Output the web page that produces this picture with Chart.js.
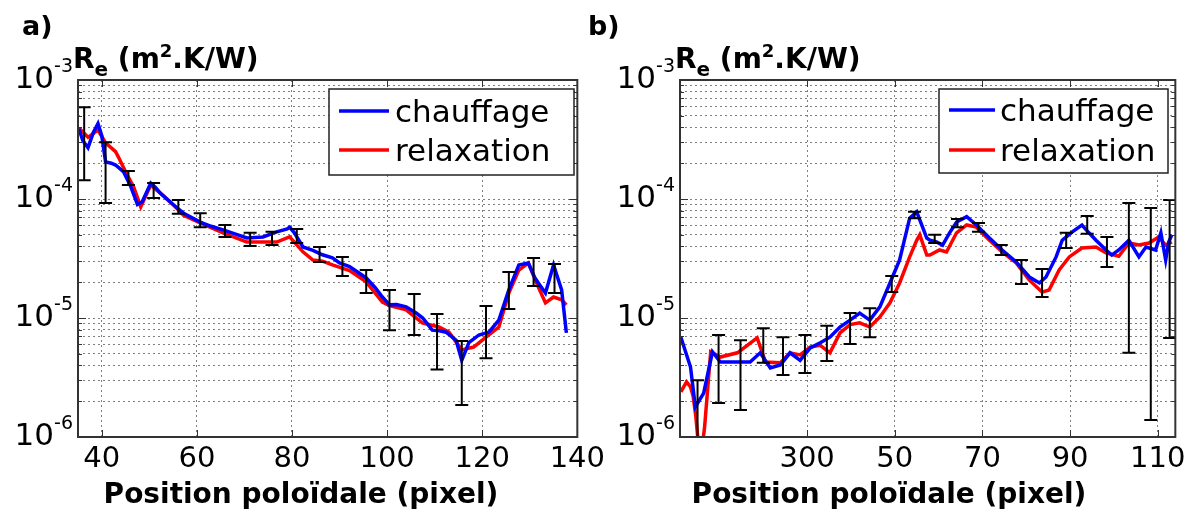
<!DOCTYPE html>
<html>
<head>
<meta charset="utf-8">
<script src="https://cdn.jsdelivr.net/npm/chart.js@4.4.1/dist/chart.umd.min.js"></script>
<style>
  html, body { margin: 0; padding: 0; background: #fff; }
  #wrap { position: relative; width: 1191px; height: 515px; overflow: hidden; }
  canvas { position: absolute; top: 0; }
</style>
</head>
<body>
<div id="wrap">
  <canvas id="chartA" width="610" height="515" style="left:0"></canvas>
  <canvas id="chartB" width="611" height="515" style="left:580px"></canvas>
</div>
<script>
// ---- panel a) ----
const xChaufA = [35.2, 36.0, 37.1, 38.2, 39.2, 40.0, 40.8, 42.0, 42.9, 44.6, 46.0, 47.5, 48.5, 50.3, 51.3, 52.3, 55.1, 57.2, 60.7, 63.0, 65.5, 68.0, 70.5, 73.9, 76.8, 79.0, 79.5, 80.5, 82.3, 84.4, 86.4, 88.5, 90.0, 92.1, 95.6, 97.5, 99.0, 100.5, 102.0, 104.0, 106.1, 107.5, 109.5, 111.0, 112.4, 114.5, 115.7, 117.2, 119.3, 121.4, 123.5, 125.6, 127.7, 129.7, 131.0, 131.8, 133.3, 135.0, 136.7, 137.7];
const yChaufA = [3.9e-4, 3.1e-4, 2.7e-4, 3.6e-4, 4.3e-4, 3.4e-4, 2.05e-4, 2.0e-4, 1.93e-4, 1.69e-4, 1.3e-4, 9.0e-5, 9.5e-5, 1.36e-4, 1.25e-4, 1.12e-4, 8.9e-5, 7.6e-5, 6.4e-5, 5.9e-5, 5.5e-5, 5.1e-5, 4.7e-5, 4.8e-5, 5.3e-5, 5.6e-5, 5.8e-5, 5.2e-5, 3.95e-5, 3.7e-5, 3.4e-5, 3.2e-5, 2.9e-5, 2.7e-5, 2.17e-5, 1.8e-5, 1.5e-5, 1.29e-5, 1.3e-5, 1.24e-5, 1.1e-5, 1.0e-5, 7.9e-6, 7.8e-6, 7.6e-6, 6.5e-6, 4.4e-6, 6.2e-6, 7.2e-6, 7.6e-6, 9.6e-6, 1.72e-5, 2.79e-5, 2.9e-5, 2.2e-5, 1.97e-5, 1.62e-5, 2.79e-5, 1.72e-5, 7.5e-6];
const xRelaxA = [35.2, 37.1, 39.2, 40.8, 42.9, 43.6, 45.0, 46.7, 48.2, 50.3, 52.3, 55.1, 57.2, 60.7, 65.5, 70.5, 73.9, 76.8, 79.5, 82.3, 84.4, 86.4, 88.5, 92.1, 95.6, 99.0, 100.5, 102.6, 104.0, 107.4, 110.9, 113.0, 115.7, 118.2, 121.4, 123.5, 125.6, 127.7, 129.7, 131.8, 133.3, 135.0, 136.7, 137.7];
const yRelaxA = [3.95e-4, 3.3e-4, 3.8e-4, 2.96e-4, 2.5e-4, 2.21e-4, 1.69e-4, 1.26e-4, 8.6e-5, 1.31e-4, 1.12e-4, 8.9e-5, 7.3e-5, 6.3e-5, 5.2e-5, 4.35e-5, 4.35e-5, 4.35e-5, 4.8e-5, 3.6e-5, 3.07e-5, 3.0e-5, 2.79e-5, 2.5e-5, 2.01e-5, 1.36e-5, 1.27e-5, 1.21e-5, 1.17e-5, 9.1e-6, 8.4e-6, 7.6e-6, 5.4e-6, 5.7e-6, 7.2e-6, 8.4e-6, 1.62e-5, 2.53e-5, 2.9e-5, 1.82e-5, 1.34e-5, 1.5e-5, 1.42e-5, 1.29e-5];
const errXA = [36.3, 40.8, 45.6, 50.9, 56.1, 60.7, 65.9, 71.2, 75.8, 81.0, 85.8, 90.6, 95.6, 100.5, 105.7, 110.5, 115.7, 120.8, 125.6, 130.8, 135.2];
const errHiA = [5.9e-4, 3.0e-4, 1.72e-4, 1.36e-4, 9.8e-5, 7.6e-5, 6.05e-5, 5.2e-5, 5.3e-5, 5.6e-5, 3.95e-5, 3.26e-5, 2.53e-5, 1.72e-5, 1.59e-5, 1.08e-5, 6.4e-6, 1.26e-5, 2.44e-5, 3.19e-5, 2.84e-5];
const errLoA = [1.44e-4, 9.25e-5, 1.31e-4, 1.02e-4, 7.5e-5, 5.8e-5, 4.8e-5, 4.03e-5, 4.1e-5, 4.27e-5, 2.96e-5, 2.25e-5, 1.62e-5, 7.9e-6, 7.2e-6, 3.7e-6, 1.86e-6, 4.6e-6, 1.19e-5, 1.86e-5, 1.62e-5];
const xTicksA = [40, 60, 80, 100, 120, 140];
const xLabelsA = ['40', '60', '80', '100', '120', '140'];

// ---- panel b) ----
const xChaufB = [1.2, 3.4, 4.5, 6.4, 8.4, 10.2, 14.1, 17.0, 19.3, 21.6, 23.9, 26.1, 28.4, 30.7, 33.0, 35.2, 37.5, 39.8, 42.0, 44.3, 46.6, 48.9, 51.1, 53.4, 55.0, 57.3, 58.0, 59.5, 60.9, 62.5, 64.1, 66.4, 68.6, 71.6, 74.5, 77.7, 80.7, 83.0, 84.5, 86.8, 88.2, 90.5, 92.7, 94.3, 95.9, 98.2, 99.5, 101.1, 103.4, 105.7, 107.3, 109.5, 110.7, 111.8, 112.5, 113.2];
const yChaufB = [6.9e-6, 3.87e-6, 1.79e-6, 2.34e-6, 5.2e-6, 4.27e-6, 4.27e-6, 4.27e-6, 5.1e-6, 3.8e-6, 4.03e-6, 5.1e-6, 4.4e-6, 5.6e-6, 6.2e-6, 6.9e-6, 8.4e-6, 9.6e-6, 1.1e-5, 9.6e-6, 1.24e-5, 1.97e-5, 3.07e-5, 6.9e-5, 7.8e-5, 4.7e-5, 4.5e-5, 4.35e-5, 4.1e-5, 5.2e-5, 6.4e-5, 7.1e-5, 6.05e-5, 4.7e-5, 3.73e-5, 2.96e-5, 2.21e-5, 1.97e-5, 2.21e-5, 3.26e-5, 4.5e-5, 5.3e-5, 6.05e-5, 5.2e-5, 4.5e-5, 3.73e-5, 3.38e-5, 3.73e-5, 4.5e-5, 3.26e-5, 3.95e-5, 3.73e-5, 5.2e-5, 3.07e-5, 4.35e-5, 5.0e-5];
const xRelaxB = [1.2, 2.5, 3.4, 4.0, 4.6, 5.6, 6.6, 8.0, 10.2, 14.1, 18.6, 20.5, 23.9, 26.1, 28.4, 30.7, 33.0, 35.2, 37.5, 39.8, 42.0, 44.3, 46.6, 48.9, 51.1, 53.4, 55.0, 55.7, 57.3, 58.0, 60.2, 61.8, 64.1, 66.4, 68.6, 71.6, 74.5, 77.7, 80.7, 83.6, 85.2, 87.5, 89.8, 92.7, 95.9, 98.2, 101.1, 103.4, 105.7, 108.0, 110.2, 111.8, 113.2];
const yRelaxB = [2.4e-6, 2.9e-6, 2.63e-6, 2.2e-6, 1.5e-6, 6e-7, 1.2e-6, 5.2e-6, 4.7e-6, 5.1e-6, 6.8e-6, 4.27e-6, 4.2e-6, 5.1e-6, 4.9e-6, 5.7e-6, 5.9e-6, 5.1e-6, 7.5e-6, 8.8e-6, 9.1e-6, 8.4e-6, 1.02e-5, 1.34e-5, 1.97e-5, 3.26e-5, 4.5e-5, 5.0e-5, 3.38e-5, 3.38e-5, 3.73e-5, 3.59e-5, 5.2e-5, 6.05e-5, 5.8e-5, 4.5e-5, 3.59e-5, 2.9e-5, 2.08e-5, 1.65e-5, 1.72e-5, 2.53e-5, 3.26e-5, 3.87e-5, 3.95e-5, 3.52e-5, 3.3e-5, 4.27e-5, 4.1e-5, 4.27e-5, 4.8e-5, 4.1e-5, 4.35e-5];
const errXB = [5.0, 9.8, 14.8, 20.0, 24.5, 29.5, 34.5, 39.8, 44.3, 49.3, 54.5, 59.1, 64.3, 69.1, 74.3, 78.9, 83.6, 89.1, 93.9, 98.4, 103.4, 108.4, 112.7];
const errHiB = [3.0e-6, 7.2e-6, 6.5e-6, 8.2e-6, 6.9e-6, 7.2e-6, 8.6e-6, 1.1e-5, 1.21e-5, 2.25e-5, 7.8e-5, 5.0e-5, 6.8e-5, 6.3e-5, 4.1e-5, 3.07e-5, 2.58e-5, 5.2e-5, 7.2e-5, 4.8e-5, 9.25e-5, 8.4e-5, 9.8e-5];
const errLoB = [5e-7, 1.93e-6, 1.69e-6, 4.2e-6, 3.32e-6, 3.45e-6, 4.35e-6, 6.05e-6, 6.9e-6, 1.65e-5, 6.9e-5, 4.27e-5, 5.8e-5, 5.3e-5, 3.38e-5, 1.93e-5, 1.5e-5, 3.87e-5, 5.1e-5, 2.68e-5, 5.1e-6, 1.39e-6, 6.8e-6];
const xTicksB = [30, 50, 70, 90, 110];
const xLabelsB = ['300', '50', '70', '90', '110'];

// ---- shared ----
const seriesNames = ['chauffage', 'relaxation'];
const yDecades = [1e-6, 1e-5, 1e-4, 1e-3];
const yDecadeLabels = ['-6', '-5', '-4', '-3'];
const xTitle = 'Position poloïdale (pixel)';

const FONT = '"DejaVu Sans", Arial, sans-serif';

// log grid: 1..9 x 10^k for each decade
const gridVals = [];
yDecades.forEach((d, i) => {
  if (i < yDecades.length - 1) {
    for (let m = 1; m < 10; m++) gridVals.push(m * d);
  } else {
    gridVals.push(d);
  }
});

function decor(p) {
  return {
    id: 'decor',
    afterDatasetsDraw(chart) {
      const { ctx, chartArea: ca, scales: { x, y } } = chart;
      // error bars
      ctx.save();
      ctx.beginPath();
      ctx.rect(ca.left, ca.top, ca.right - ca.left, ca.bottom - ca.top);
      ctx.clip();
      ctx.strokeStyle = '#000';
      ctx.lineWidth = 2;
      p.errX.forEach((v, i) => {
        const px = x.getPixelForValue(v);
        const top = y.getPixelForValue(p.errHi[i]);
        const bot = y.getPixelForValue(p.errLo[i]);
        ctx.beginPath();
        ctx.moveTo(px, top); ctx.lineTo(px, bot);
        ctx.moveTo(px - 6.5, top); ctx.lineTo(px + 6.5, top);
        ctx.moveTo(px - 6.5, bot); ctx.lineTo(px + 6.5, bot);
        ctx.stroke();
      });
      ctx.restore();
    },
    afterDraw(chart) {
      const { ctx, chartArea: ca, scales: { x, y } } = chart;
      ctx.save();
      // inner ticks
      ctx.strokeStyle = '#333';
      ctx.lineWidth = 1;
      ctx.beginPath();
      p.xticks.forEach(v => {
        const px = Math.round(x.getPixelForValue(v)) + 0.5;
        ctx.moveTo(px, ca.bottom); ctx.lineTo(px, ca.bottom - 7);
        ctx.moveTo(px, ca.top); ctx.lineTo(px, ca.top + 7);
      });
      gridVals.forEach(v => {
        const py = Math.round(y.getPixelForValue(v)) + 0.5;
        const len = yDecades.includes(v) ? 8 : 4;
        ctx.moveTo(ca.left, py); ctx.lineTo(ca.left + len, py);
        ctx.moveTo(ca.right, py); ctx.lineTo(ca.right - len, py);
      });
      ctx.stroke();
      // box
      ctx.strokeStyle = '#333';
      ctx.lineWidth = 2;
      ctx.strokeRect(ca.left, ca.top, ca.right - ca.left, ca.bottom - ca.top);

      // y labels 10^k
      ctx.fillStyle = '#000';
      ctx.textAlign = 'left';
      ctx.textBaseline = 'alphabetic';
      yDecades.forEach((d, i) => {
        const py = y.getPixelForValue(d);
        ctx.font = '31px ' + FONT;
        const w10 = ctx.measureText('10').width;
        ctx.font = '19px ' + FONT;
        const ws = ctx.measureText(yDecadeLabels[i]).width;
        const rx = ca.left - 5;
        ctx.fillText(yDecadeLabels[i], rx - ws, py - 8);
        ctx.font = '31px ' + FONT;
        ctx.fillText('10', rx - ws - w10, py + 8);
      });

      // y title R_e (m2.K/W)
      let tx = ca.left - 5;
      const ty = 68;
      const parts = [
        ['R', 'bold 28px', 0], ['e', 'bold 20px', 8], [' (m', 'bold 28px', 0],
        ['2', 'bold 18px', -11], ['.K/W)', 'bold 28px', 0]
      ];
      parts.forEach(([t, f, dy]) => {
        ctx.font = f + ' ' + FONT;
        ctx.fillText(t, tx, ty + dy);
        tx += ctx.measureText(t).width;
      });

      // panel letter
      ctx.font = 'bold 27px ' + FONT;
      ctx.fillText(p.letter, p.letterX, 35);

      // x title
      ctx.font = 'bold 28px ' + FONT;
      ctx.textAlign = 'center';
      ctx.fillText(xTitle, p.titleX, 503);

      // legend
      const lg = p.legend;
      ctx.fillStyle = '#fff';
      ctx.fillRect(lg.x, lg.y, lg.w, lg.h);
      ctx.strokeStyle = '#222';
      ctx.lineWidth = 1.5;
      ctx.strokeRect(lg.x, lg.y, lg.w, lg.h);
      ctx.textAlign = 'left';
      chart.data.datasets.forEach((ds, i) => {
        ctx.strokeStyle = ds.borderColor;
        ctx.lineWidth = 3.5;
        ctx.beginPath();
        ctx.moveTo(lg.x0, lg.rows[i]); ctx.lineTo(lg.x1, lg.rows[i]);
        ctx.stroke();
        ctx.fillStyle = '#000';
        ctx.font = '31px ' + FONT;
        ctx.fillText(ds.label, lg.tx, lg.rows[i] + 11);
      });
      ctx.restore();
    }
  };
}

function makePanel(id, p) {
  return new Chart(document.getElementById(id), {
    type: 'line',
    data: {
      datasets: [
        { label: seriesNames[0], data: p.xc.map((v, i) => ({ x: v, y: p.yc[i] })),
          borderColor: '#0000ff', borderWidth: 3.5, pointRadius: 0, tension: 0, fill: false },
        { label: seriesNames[1], data: p.xr.map((v, i) => ({ x: v, y: p.yr[i] })),
          borderColor: '#ff0000', borderWidth: 3.5, pointRadius: 0, tension: 0, fill: false }
      ]
    },
    options: {
      responsive: false,
      animation: false,
      devicePixelRatio: 1,
      layout: { padding: { left: 0, top: 80, right: p.padRight, bottom: 0 } },
      plugins: { legend: { display: false }, tooltip: { enabled: false } },
      scales: {
        x: {
          type: 'linear', min: p.xmin, max: p.xmax,
          afterBuildTicks: s => { s.ticks = p.xticks.map(v => ({ value: v })); },
          afterFit: s => { s.height = 78; },
          ticks: { autoSkip: false, maxRotation: 0, padding: 5, color: '#000',
                   font: { family: FONT, size: 29 }, callback: (v, i) => p.xlabels[i] },
          grid: { color: '#808080', lineWidth: 1, drawTicks: false },
          border: { display: false, dash: [2, 3] }
        },
        y: {
          type: 'logarithmic', min: 1e-6, max: 1e-3,
          afterBuildTicks: s => { s.ticks = gridVals.map(v => ({ value: v })); },
          afterFit: s => { s.width = p.yWidth; },
          ticks: { display: false },
          grid: { color: '#808080', lineWidth: 1, drawTicks: false },
          border: { display: false, dash: [2, 3] }
        }
      }
    },
    plugins: [decor(p)]
  });
}

makePanel('chartA', {
  xc: xChaufA, yc: yChaufA, xr: xRelaxA, yr: yRelaxA,
  errX: errXA, errHi: errHiA, errLo: errLoA,
  xmin: 35, xmax: 140, xticks: xTicksA, xlabels: xLabelsA,
  yWidth: 78, padRight: 32, letter: 'a)', letterX: 22, titleX: 301,
  legend: { x: 329, y: 89, w: 245, h: 86, x0: 339, x1: 389, tx: 395, rows: [111, 150] }
});
makePanel('chartB', {
  xc: xChaufB, yc: yChaufB, xr: xRelaxB, yr: yRelaxB,
  errX: errXB, errHi: errHiB, errLo: errLoB,
  xmin: 1, xmax: 114, xticks: xTicksB, xlabels: xLabelsB,
  yWidth: 100, padRight: 15, letter: 'b)', letterX: 8, titleX: 309,
  legend: { x: 359, y: 89, w: 229, h: 84, x0: 369, x1: 415, tx: 420, rows: [110, 150] }
});
</script>
</body>
</html>
